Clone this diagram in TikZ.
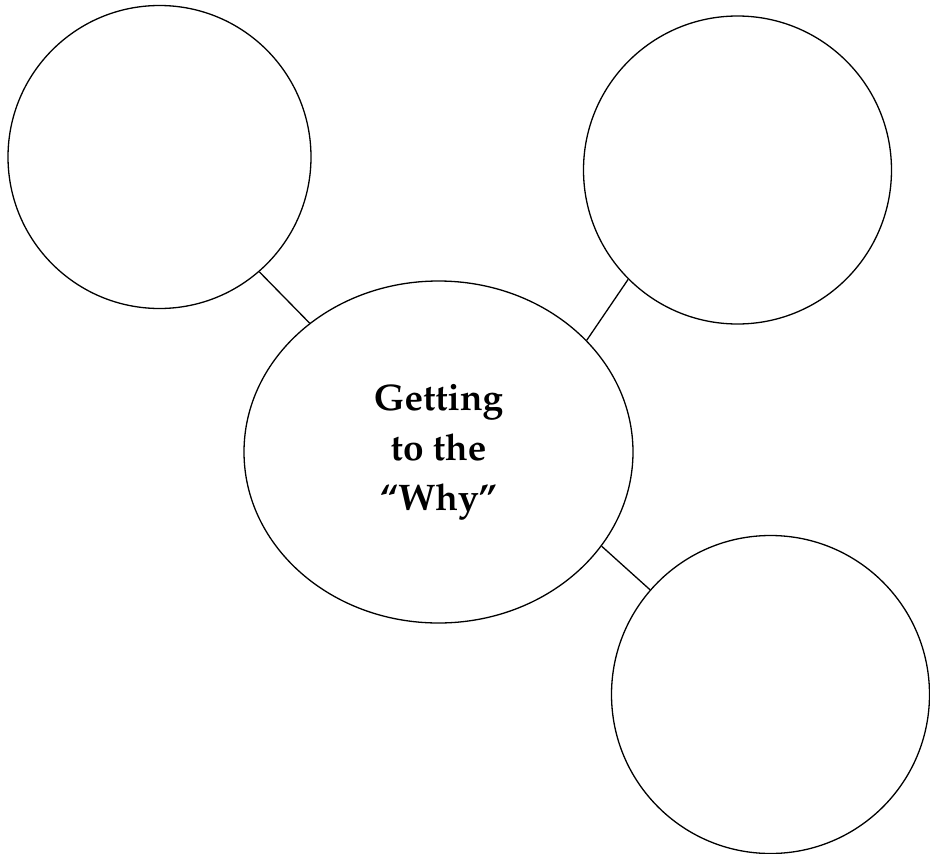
\documentclass[tikz,border=0pt]{standalone}
\usepackage[T1]{fontenc}
\usepackage{mathpazo}
\usetikzlibrary{shapes.geometric}
\begin{document}
\begin{tikzpicture}[x=1pt,y=-1pt,
    bubble/.style={circle,draw,line width=1.3pt,inner sep=0pt},
    link/.style={line width=1.3pt}]
  \useasboundingbox (0,0) rectangle (930,854);

  \node[ellipse,draw,line width=1.3pt,minimum width=389pt,minimum height=342pt,inner sep=0pt,
        align=center,font=\fontsize{37}{50}\selectfont\bfseries] (why) at (438.5,452)
        {Getting\\to the\\``Why''};
  \node[bubble,minimum size=303pt] (topleft)  at (159.5,157)   {};
  \node[bubble,minimum size=308pt] (topright) at (737.5,170)   {};
  \node[bubble,minimum size=318pt] (botright) at (770.5,694.5) {};
%
  \draw[link] (topleft.-49)     -- (why.135);
  \draw[link] (topright.225.6)  -- (why.37.4);
  \draw[link] (botright.139.1)  -- (why.-30.3);
\end{tikzpicture}
\end{document}
